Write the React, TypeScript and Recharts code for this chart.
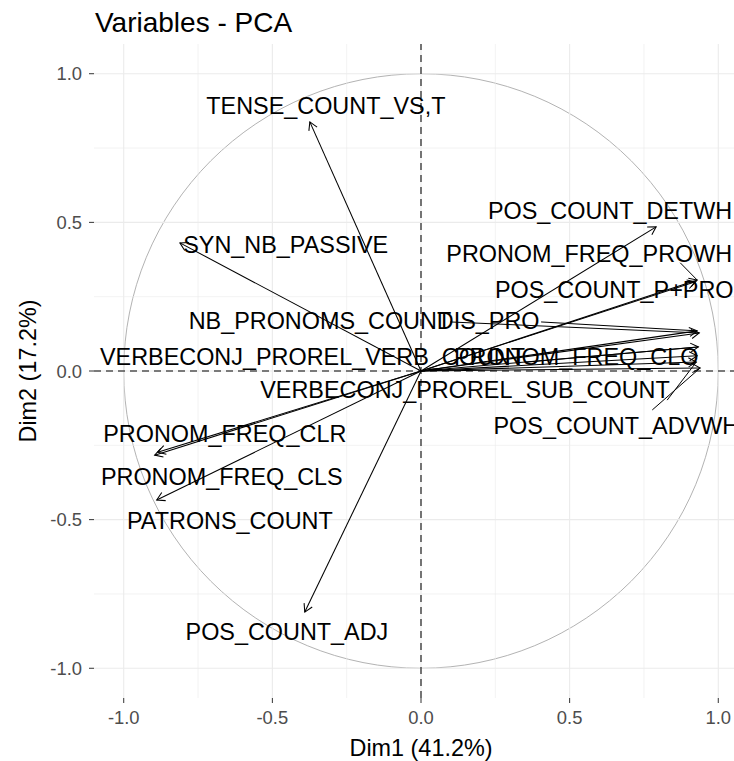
import React from 'react';
import { ScatterChart, Scatter, XAxis, YAxis, ReferenceLine, ReferenceArea } from 'recharts';

// Variable names and their coordinates on Dim1 / Dim2
const varNames = [
  'TENSE_COUNT_VS,T',
  'SYN_NB_PASSIVE',
  'PRONOM_FREQ_CLR',
  'PRONOM_FREQ_CLS',
  'PATRONS_COUNT',
  'POS_COUNT_ADJ',
  'POS_COUNT_DETWH',
  'PRONOM_FREQ_PROWH',
  'POS_COUNT_P+PRO',
  'DIS_PRO',
  'NB_PRONOMS_COUNT',
  'VERBECONJ_PROREL_VERB_COUNT',
  'PRONOM_FREQ_CLO',
  'VERBECONJ_PROREL_SUB_COUNT',
  'POS_COUNT_ADVWH',
];
const dim1 = [-0.374, -0.811, -0.896, -0.886, -0.889, -0.391, 0.791, 0.929, 0.923, 0.929, 0.936, 0.933, 0.929, 0.926, 0.939];
const dim2 = [0.838, 0.431, -0.283, -0.273, -0.434, -0.811, 0.485, 0.306, 0.300, 0.135, 0.128, 0.081, 0.051, 0.030, 0.010];

// Where the (repelled) labels sit, in the same units
const labelX = [-0.320, -0.455, -0.660, -0.670, -0.643, -0.451, 0.636, 0.566, 0.650, 0.226, -0.340, -0.365, 0.522, 0.148, 0.657];
const labelY = [0.892, 0.424, -0.212, -0.355, -0.503, -0.879, 0.539, 0.394, 0.273, 0.168, 0.168, 0.047, 0.047, -0.064, -0.185];

// Repel connector segments: start point (label side) -> variable point
const repelNames = ['PRONOM_FREQ_PROWH', 'NB_PRONOMS_COUNT', 'DIS_PRO', 'VERBECONJ_PROREL_VERB_COUNT', 'VERBECONJ_PROREL_SUB_COUNT', 'POS_COUNT_ADVWH'];
const repelFromX = [0.872, 0.098, 0.404, 0.357, 0.828, 0.778];
const repelFromY = [0.364, 0.165, 0.165, 0.030, -0.098, -0.131];

const axisTicks = [-1, -0.5, 0, 0.5, 1];
const minorGrid = [-0.75, -0.25, 0.25, 0.75];
const axisDomain: [number, number] = [-1.1, 1.1];

const FONT = '"Liberation Sans", Arial, Helvetica, sans-serif';

const ArrowShape = (props: any) => {
  const { x1, y1, x2, y2 } = props;
  const ang = Math.atan2(y2 - y1, x2 - x1);
  const L = 9;
  const a = Math.PI / 6;
  const ax = x2 - L * Math.cos(ang - a);
  const ay = y2 - L * Math.sin(ang - a);
  const bx = x2 - L * Math.cos(ang + a);
  const by = y2 - L * Math.sin(ang + a);
  return (
    <g>
      <line x1={x1} y1={y1} x2={x2} y2={y2} stroke="#000" strokeWidth={1.05} />
      <polyline points={`${ax},${ay} ${x2},${y2} ${bx},${by}`} fill="none" stroke="#000" strokeWidth={1.05} />
    </g>
  );
};

const CircleShape = (props: any) => {
  const { x, y, width, height } = props;
  return (
    <ellipse
      cx={x + width / 2}
      cy={y + height / 2}
      rx={Math.abs(width) / 2}
      ry={Math.abs(height) / 2}
      fill="none"
      stroke="#B3B3B3"
      strokeWidth={1}
    />
  );
};

const LabelShape = (props: any) => {
  const { cx, cy, payload } = props;
  return (
    <text x={cx} y={cy} dy="0.35em" textAnchor="middle" fontSize={23.4} fontFamily={FONT} fill="#000">
      {payload.name}
    </text>
  );
};

export default function App() {
  const labelData = varNames.map((n, i) => ({ x: labelX[i], y: labelY[i], name: n }));
  const tickStyle = { fill: '#4D4D4D', fontSize: 18.4, fontFamily: FONT };
  return (
    <div style={{ position: 'absolute', left: 0, top: 0, width: 734, height: 761, overflow: 'hidden', background: '#fff' }}>
      <ScatterChart width={770} height={761} margin={{ top: 44, right: 22, bottom: 23, left: 34 }}>
        <XAxis
          type="number"
          dataKey="x"
          domain={axisDomain}
          ticks={axisTicks}
          allowDataOverflow
          axisLine={false}
          tickSize={5}
          tickMargin={8}
          tickLine={{ stroke: '#333333' }}
          tick={tickStyle}
          tickFormatter={(v: number) => v.toFixed(1)}
          height={40}
        />
        <YAxis
          type="number"
          dataKey="y"
          domain={axisDomain}
          ticks={axisTicks}
          allowDataOverflow
          axisLine={false}
          tickSize={5}
          tickMargin={7}
          tickLine={{ stroke: '#333333' }}
          tick={tickStyle}
          tickFormatter={(v: number) => v.toFixed(1)}
          width={60}
        />
        {minorGrid.map((v) => (
          <ReferenceLine key={'mx' + v} x={v} stroke="#EBEBEB" strokeWidth={0.6} />
        ))}
        {minorGrid.map((v) => (
          <ReferenceLine key={'my' + v} y={v} stroke="#EBEBEB" strokeWidth={0.6} />
        ))}
        {axisTicks.map((v) => (
          <ReferenceLine key={'gx' + v} x={v} stroke="#EBEBEB" strokeWidth={1.1} />
        ))}
        {axisTicks.map((v) => (
          <ReferenceLine key={'gy' + v} y={v} stroke="#EBEBEB" strokeWidth={1.1} />
        ))}
        <ReferenceArea x1={-1} x2={1} y1={-1} y2={1} shape={CircleShape} />
        <ReferenceLine x={0} stroke="#000" strokeWidth={1.05} strokeDasharray="7 5" />
        <ReferenceLine y={0} stroke="#000" strokeWidth={1.05} strokeDasharray="7 5" />
        {varNames.map((n, i) => (
          <ReferenceLine
            key={'arrow' + n}
            segment={[{ x: 0, y: 0 }, { x: dim1[i], y: dim2[i] }]}
            shape={ArrowShape}
          />
        ))}
        {repelNames.map((n, i) => {
          const k = varNames.indexOf(n);
          return (
            <ReferenceLine
              key={'rep' + n}
              segment={[{ x: repelFromX[i], y: repelFromY[i] }, { x: dim1[k], y: dim2[k] }]}
              stroke="#000"
              strokeWidth={1}
            />
          );
        })}
        <Scatter data={labelData} shape={LabelShape} isAnimationActive={false} />
      </ScatterChart>
      <svg style={{ position: 'absolute', left: 0, top: 0, pointerEvents: 'none' }} width={734} height={761}>
        <text x={95} y={32} fontSize={28} fontFamily={FONT} fill="#000">Variables - PCA</text>
        <text x={421} y={756} fontSize={23.4} fontFamily={FONT} fill="#000" textAnchor="middle">Dim1 (41.2%)</text>
        <text x={36} y={371} fontSize={23.4} fontFamily={FONT} fill="#000" textAnchor="middle" transform="rotate(-90 36 371)">Dim2 (17.2%)</text>
      </svg>
    </div>
  );
}
